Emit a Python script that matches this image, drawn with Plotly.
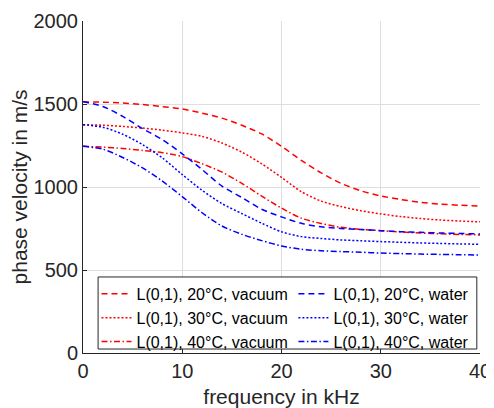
import plotly.graph_objects as go

freq = [0, 2, 4, 6, 8, 10, 12, 14, 16, 18, 20, 22, 24, 26, 28, 30, 32, 34, 36, 38, 40]

vac_20 = [1513, 1511, 1506, 1497, 1484, 1470, 1445, 1415, 1372, 1320, 1245, 1160, 1085, 1022, 977, 946, 925, 908, 897, 890, 885]
vac_30 = [1375, 1372, 1365, 1355, 1342, 1326, 1305, 1265, 1210, 1140, 1058, 972, 915, 882, 857, 838, 822, 810, 801, 795, 790]
vac_40 = [1245, 1240, 1232, 1220, 1207, 1183, 1140, 1090, 1022, 945, 873, 812, 780, 757, 745, 737, 729, 723, 718, 714, 711]
wat_20 = [1513, 1485, 1425, 1352, 1285, 1200, 1105, 1005, 937, 866, 820, 781, 760, 750, 744, 737, 731, 727, 723, 720, 717]
wat_30 = [1375, 1360, 1318, 1255, 1175, 1075, 980, 900, 840, 782, 730, 701, 690, 681, 676, 671, 667, 663, 660, 657, 655]
wat_40 = [1245, 1228, 1178, 1115, 1035, 942, 845, 765, 715, 677, 645, 625, 616, 611, 607, 602, 599, 596, 594, 592, 590]

names = [
    "L(0,1), 20°C, vacuum", "L(0,1), 30°C, vacuum", "L(0,1), 40°C, vacuum",
    "L(0,1), 20°C, water", "L(0,1), 30°C, water", "L(0,1), 40°C, water",
]
series = [vac_20, vac_30, vac_40, wat_20, wat_30, wat_40]
colors = ["#FF0000", "#FF0000", "#FF0000", "#0000FF", "#0000FF", "#0000FF"]
dash_dash = "6px,4px"
dash_dot = "2px,2px"
dash_dashdot = "6px,2.5px,1.5px,2.5px"
dashes = [dash_dash, dash_dot, dash_dashdot, dash_dash, dash_dot, dash_dashdot]
legend_ids = ["legend", "legend", "legend", "legend2", "legend2", "legend2"]

x_ticks = [0, 10, 20, 30, 40]
y_ticks = [0, 500, 1000, 1500, 2000]

FONT = "Liberation Sans, Arial, sans-serif"
AX = "#262626"

fig = go.Figure()
for n, s, c, d, lg in zip(names, series, colors, dashes, legend_ids):
    fig.add_trace(go.Scatter(
        x=freq, y=s, name=n, mode="lines", legend=lg,
        line=dict(color=c, dash=d, width=1.5, shape="spline", smoothing=0.8),
    ))

leg_font = dict(size=16, color="black", family=FONT)
title_font = dict(size=21, color=AX, family=FONT)
fig.update_layout(
    width=486, height=400,
    margin=dict(l=75, r=14, t=13, b=55, autoexpand=False),
    paper_bgcolor="white", plot_bgcolor="white",
    font=dict(family=FONT, color=AX, size=20),
    showlegend=True,
    legend=dict(
        orientation="v", x=0.034, y=0.229, xanchor="left", yanchor="top",
        bgcolor="rgba(0,0,0,0)", borderwidth=0, font=leg_font,
        tracegroupgap=0, itemwidth=30,
    ),
    legend2=dict(
        orientation="v", x=0.53, y=0.229, xanchor="left", yanchor="top",
        bgcolor="rgba(0,0,0,0)", borderwidth=0, font=leg_font,
        tracegroupgap=0, itemwidth=30,
    ),
    shapes=[dict(
        type="rect", xref="paper", yref="paper",
        x0=0.038, x1=0.992, y0=0.012, y1=0.229,
        line=dict(color=AX, width=1), fillcolor="white", layer="above",
    )],
)
fig.update_xaxes(
    range=[0, 40], tickvals=x_ticks, ticktext=[str(v) for v in x_ticks],
    tickfont=dict(size=20),
    showline=True, linecolor=AX, linewidth=1, mirror=False,
    ticks="inside", ticklen=4, tickcolor=AX,
    showgrid=True, gridcolor="#dedede", gridwidth=1, zeroline=False,
    title=dict(text="frequency in kHz", standoff=14, font=title_font),
)
fig.update_yaxes(
    range=[0, 2000], tickvals=y_ticks, ticktext=[str(v) for v in y_ticks],
    tickfont=dict(size=20),
    showline=True, linecolor=AX, linewidth=1, mirror=False,
    ticks="inside", ticklen=4, tickcolor=AX,
    showgrid=True, gridcolor="#dedede", gridwidth=1, zeroline=False,
    title=dict(text="phase velocity in m/s", standoff=4, font=title_font),
)

fig.write_html("out.html")
